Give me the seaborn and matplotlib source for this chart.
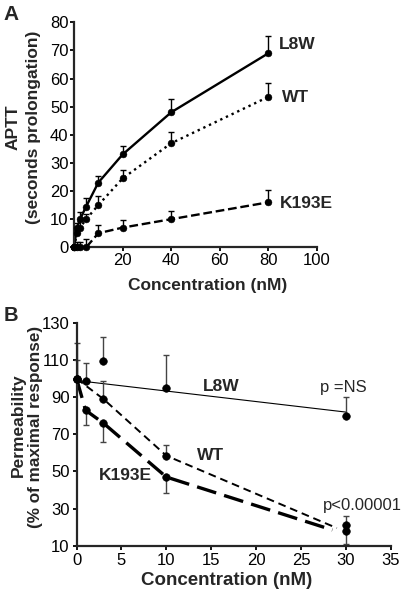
import numpy as np
import pandas as pd
import seaborn as sns
import matplotlib.pyplot as plt

# Panel A : APTT vs concentration
conc_a = [0, 1.25, 2.5, 5, 10, 20, 40, 80]
aptt_l8w = [0, 7, 10, 14.5, 23, 33, 48, 69]
aptt_wt = [0, 5, 7, 10, 15, 24.5, 37, 53.5]
aptt_k193e = [0, 0, 0, 0, 5, 7, 10, 16]
err_l8w = [0, 1.5, 2.5, 3, 2.5, 3, 4.7, 6]
err_wt = [0, 1.5, 2.5, 2, 3.4, 3, 4, 5]
err_k193e = [0, 2, 2, 3, 3, 2.7, 3, 4.5]

# Panel B : permeability vs concentration
conc_b = [0, 1, 3, 10, 30]
perm_l8w = [100, 98.5, 109.5, 95, 80]
perm_wt = [100, np.nan, 89, 58.5, 21]
perm_k193e = [100, 83, 76, 47, 18]
perr_l8w = [19, 10, 13, 18, 10]
perr_wt = [10, np.nan, 9.5, 6, 5]
perr_k193e = [0, 8, 10, 8.5, 7]
# trend line for L8W and curve ends for WT / K193E
fit_l8w_x = [0, 30]
fit_l8w_y = [99, 82]
line_wt_x = [0, 3, 10, 29]
line_wt_y = [100, 89, 58.5, 19.5]
line_k_x = [0, 1, 3, 10, 28.5]
line_k_y = [100, 83, 76, 47, 18.5]

sns.set_style("ticks")
plt.rcParams['font.family'] = ['Liberation Sans', 'DejaVu Sans']
plt.rcParams['axes.linewidth'] = 1.6

fig = plt.figure(figsize=(4.03, 6.01), dpi=100)
axA = fig.add_axes([0.1836, 0.5885, 0.603, 0.3744])
axB = fig.add_axes([0.190, 0.092, 0.7795, 0.3706])

# ---------- A ----------
styles_a = [("L8W", aptt_l8w, err_l8w, "-"),
            ("WT", aptt_wt, err_wt, ":"),
            ("K193E", aptt_k193e, err_k193e, "--")]
for name, y, e, ls in styles_a:
    df = pd.DataFrame({"conc": conc_a, "val": y})
    sns.lineplot(data=df, x="conc", y="val", ax=axA, color="black",
                 linewidth=1.7, linestyle=ls, clip_on=False)
    axA.errorbar(conc_a, y, yerr=[np.zeros(len(e)), e], fmt="none",
                 ecolor="black", elinewidth=1, capsize=2.5, clip_on=False)
    sns.scatterplot(data=df, x="conc", y="val", ax=axA, color="black",
                    s=24, edgecolor="black", zorder=5, clip_on=False)

axA.set_xlim(0, 100)
axA.set_ylim(0, 80)
axA.set_xticks([20, 40, 60, 80, 100])
axA.set_yticks(range(0, 81, 10))
axA.tick_params(labelsize=12, length=3, width=1.3, pad=1, colors="black")
axA.set_xlabel("Concentration (nM)", fontsize=12.5, fontweight="bold", va="center")
axA.xaxis.set_label_coords(0.551, -0.168)
axA.set_ylabel("APTT\n(seconds prolongation)", fontsize=12.5, fontweight="bold",
               va="center", linespacing=1.45)
axA.yaxis.set_label_coords(-0.207, 0.535)
axA.text(84.5, 72, "L8W", fontsize=12.5, fontweight="bold", va="center")
axA.text(85.5, 53.3, "WT", fontsize=12.5, fontweight="bold", va="center")
axA.text(84.6, 15.4, "K193E", fontsize=12.5, fontweight="bold", va="center")
sns.despine(ax=axA)

# ---------- B ----------
axB.plot(fit_l8w_x, fit_l8w_y, color="black", linewidth=0.8)
sns.lineplot(x=line_wt_x, y=line_wt_y, ax=axB, color="black", linewidth=1.4,
             linestyle=(0, (4, 2.5)))
sns.lineplot(x=line_k_x, y=line_k_y, ax=axB, color="black", linewidth=2.4,
             linestyle=(0, (6, 2.5)))

for y, e, up in [(perm_l8w, perr_l8w, True), (perm_wt, perr_wt, True),
                 (perm_k193e, perr_k193e, False)]:
    y = np.array(y, dtype=float)
    e = np.array(e, dtype=float)
    z = np.zeros(len(e))
    yerr = [z, e] if up else [e, z]
    axB.errorbar(conc_b, y, yerr=yerr, fmt="none", ecolor="#444444",
                 elinewidth=1, capsize=2.5, clip_on=False)
    sns.scatterplot(x=conc_b, y=y, ax=axB, color="black", s=30,
                    edgecolor="black", zorder=5, clip_on=False)

axB.set_xlim(0, 35)
axB.set_ylim(10, 130)
axB.set_xticks(range(0, 36, 5))
axB.set_yticks(range(10, 131, 20))
axB.tick_params(labelsize=12, length=3, width=1.3, pad=2, colors="black")
axB.set_xlabel("Concentration (nM)", fontsize=13.5, fontweight="bold", va="center")
axB.xaxis.set_label_coords(0.478, -0.154)
axB.set_ylabel("(% of maximal response)", fontsize=12.3,
               fontweight="bold", va="center")
axB.yaxis.set_label_coords(-0.131, 0.533)
axB.text(-0.185, 0.542, "Permeability", transform=axB.transAxes, rotation=90,
         fontsize=12.5, fontweight="bold", ha="center", va="center")
axB.text(14.1, 95.7, "L8W", fontsize=12.5, fontweight="bold", va="center")
axB.text(13.4, 58.4, "WT", fontsize=12.5, fontweight="bold", va="center")
axB.text(2.5, 47.7, "K193E", fontsize=12.5, fontweight="bold", va="center")
axB.text(29.7, 95.2, "p =NS", fontsize=12, ha="center", va="center")
axB.text(31.9, 31.4, "p<0.00001", fontsize=12, ha="center", va="center",
         clip_on=False)
sns.despine(ax=axB)

fig.text(0.008, 0.992, "A", fontsize=15, fontweight="bold", va="top")
fig.text(0.008, 1 - 306 / 601, "B", fontsize=14.5, fontweight="bold", va="top")

fig.savefig("out.png", dpi=100)
